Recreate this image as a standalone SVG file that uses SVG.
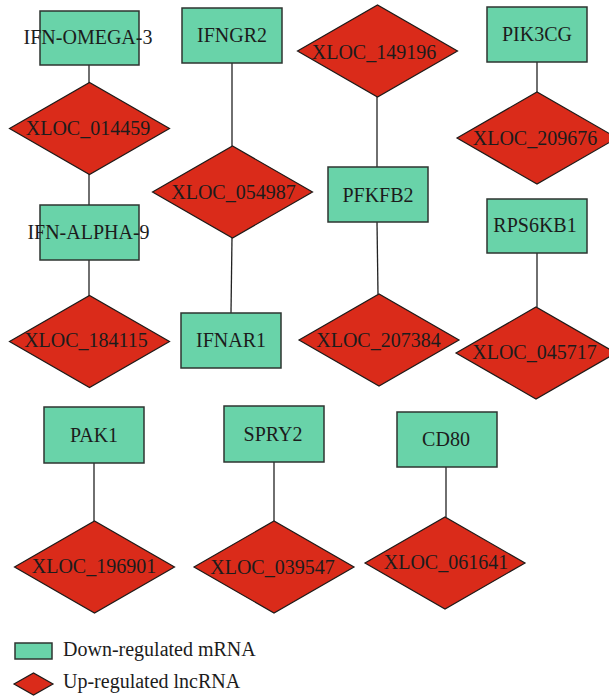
<svg xmlns="http://www.w3.org/2000/svg" width="609" height="699" viewBox="0 0 609 699">
  <style>
    .mrna { fill: #69d3a9; stroke: #2e3431; stroke-width: 1.5; }
    .lnc { fill: #da2b1a; stroke: #1e1a18; stroke-width: 1.2; }
    .edge { stroke: #222; stroke-width: 1.3; fill: none; }
    .lbl { text-anchor: middle; }
  </style>
  <defs>
    <polygon id="dia" points="-80,0 0,-46 80,0 0,46"/>
  </defs>
  <rect width="609" height="699" fill="#fff"/>

  <g id="connectors">
    <line class="edge" x1="89" y1="65" x2="89" y2="83"/>
    <line class="edge" x1="89" y1="174" x2="89" y2="205"/>
    <line class="edge" x1="89" y1="260" x2="89" y2="296"/>
    <line class="edge" x1="232" y1="63" x2="232" y2="146"/>
    <line class="edge" x1="232" y1="238" x2="231" y2="313"/>
    <line class="edge" x1="377" y1="97" x2="377" y2="167"/>
    <line class="edge" x1="377" y1="222" x2="378" y2="294"/>
    <line class="edge" x1="537" y1="62" x2="537" y2="92"/>
    <line class="edge" x1="537" y1="253" x2="537" y2="307"/>
    <line class="edge" x1="94" y1="463" x2="94" y2="521"/>
    <line class="edge" x1="274" y1="462" x2="274" y2="521"/>
    <line class="edge" x1="446" y1="467" x2="446" y2="517"/>
  </g>

  <g font-family="'Liberation Serif', 'DejaVu Serif', serif" font-size="20" fill="#1c1c1c">
  <!-- down-regulated mRNA nodes -->
  <g id="IFN-OMEGA-3"><rect class="mrna" x="40" y="11" width="99" height="54"/><text class="lbl" x="88" y="44">IFN-OMEGA-3</text></g>
  <g id="IFN-ALPHA-9"><rect class="mrna" x="40" y="205" width="99" height="55"/><text class="lbl" x="88.5" y="239">IFN-ALPHA-9</text></g>
  <g id="IFNGR2"><rect class="mrna" x="182" y="8" width="100" height="55"/><text class="lbl" x="232" y="42">IFNGR2</text></g>
  <g id="IFNAR1"><rect class="mrna" x="181" y="313" width="100" height="55"/><text class="lbl" x="231" y="347">IFNAR1</text></g>
  <g id="PFKFB2"><rect class="mrna" x="328" y="167" width="100" height="55"/><text class="lbl" x="378" y="202">PFKFB2</text></g>
  <g id="PIK3CG"><rect class="mrna" x="487" y="7" width="100" height="55"/><text class="lbl" x="537" y="41">PIK3CG</text></g>
  <g id="RPS6KB1"><rect class="mrna" x="487" y="199" width="100" height="54"/><text class="lbl" x="535" y="232">RPS6KB1</text></g>
  <g id="PAK1"><rect class="mrna" x="44" y="407" width="100" height="56"/><text class="lbl" x="94" y="442">PAK1</text></g>
  <g id="SPRY2"><rect class="mrna" x="224" y="406" width="100" height="56"/><text class="lbl" x="273" y="441">SPRY2</text></g>
  <g id="CD80"><rect class="mrna" x="397" y="412" width="100" height="55"/><text class="lbl" x="446" y="446">CD80</text></g>

  <!-- up-regulated lncRNA nodes -->
  <g id="XLOC_014459"><use href="#dia" class="lnc" x="89.5" y="128.5"/><text class="lbl" x="88" y="135">XLOC_014459</text></g>
  <g id="XLOC_184115"><use href="#dia" class="lnc" x="89.5" y="341.5"/><text class="lbl" x="86" y="347">XLOC_184115</text></g>
  <g id="XLOC_054987"><use href="#dia" class="lnc" x="232.5" y="192"/><text class="lbl" x="233.5" y="199">XLOC_054987</text></g>
  <g id="XLOC_149196"><use href="#dia" class="lnc" x="377.5" y="51"/><text class="lbl" x="374" y="59">XLOC_149196</text></g>
  <g id="XLOC_207384"><use href="#dia" class="lnc" x="379" y="340"/><text class="lbl" x="378.5" y="347">XLOC_207384</text></g>
  <g id="XLOC_209676"><use href="#dia" class="lnc" x="537" y="138"/><text class="lbl" x="535" y="145">XLOC_209676</text></g>
  <g id="XLOC_045717"><use href="#dia" class="lnc" x="536" y="353"/><text class="lbl" x="534.5" y="359">XLOC_045717</text></g>
  <g id="XLOC_196901"><use href="#dia" class="lnc" x="94.5" y="567"/><text class="lbl" x="94" y="573">XLOC_196901</text></g>
  <g id="XLOC_039547"><use href="#dia" class="lnc" x="274" y="567"/><text class="lbl" x="272.5" y="574">XLOC_039547</text></g>
  <g id="XLOC_061641"><use href="#dia" class="lnc" x="445" y="563"/><text class="lbl" x="446" y="569">XLOC_061641</text></g>

  <!-- legend -->
  <g id="legend">
    <rect class="mrna" x="15" y="643" width="37" height="16"/>
    <text x="63" y="656">Down-regulated mRNA</text>
    <polygon class="lnc" points="14,684 33.5,673 53,684 33.5,695"/>
    <text x="63" y="688">Up-regulated lncRNA</text>
  </g>
  </g>
</svg>
